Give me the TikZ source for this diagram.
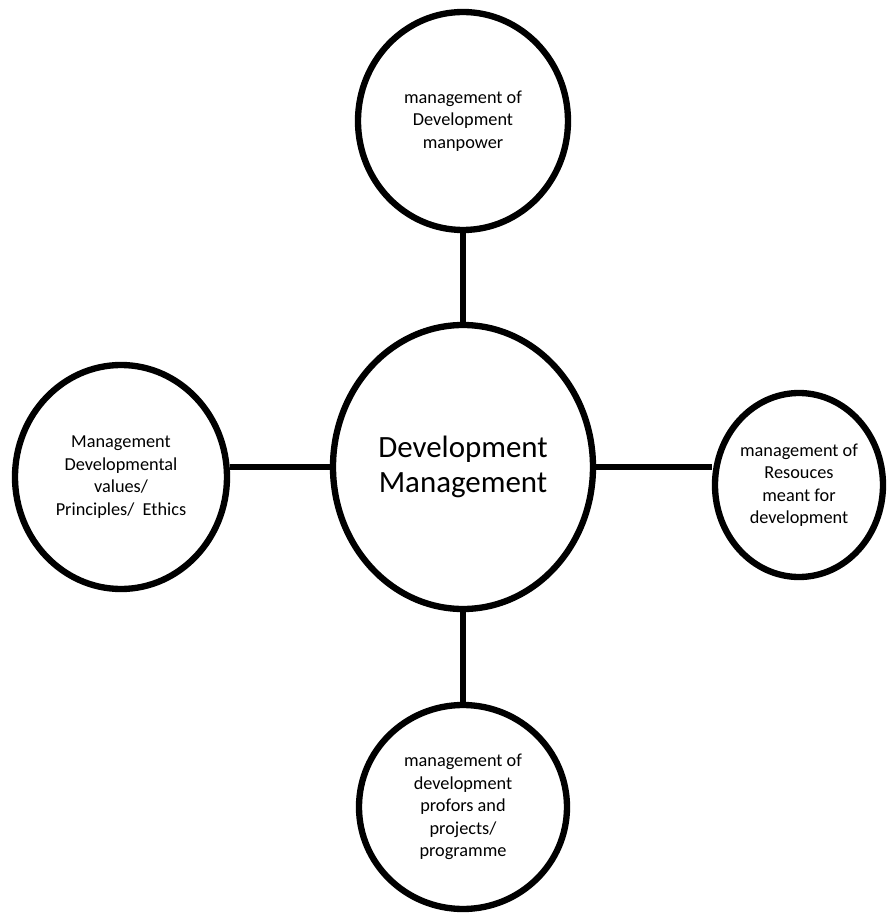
\documentclass[tikz,border=0pt]{standalone}
\usepackage{fontspec}
\setmainfont{Carlito}
\usepackage{xcolor}
\usetikzlibrary{shapes.geometric}

\tikzstyle{core} = [ellipse, minimum width=6.5cm, minimum height=7.1cm, inner sep=0pt, text centered, align=center, draw=black, line width=4.5pt, font=\fontsize{22}{25}\selectfont]
\tikzstyle{area} = [ellipse, inner sep=0pt, text centered, align=center, draw=black, line width=4.5pt, font=\fontsize{13}{16}\selectfont]
\tikzstyle{link} = [line width=3.6pt]

\begin{document}
\begin{tikzpicture}[node distance=8.5cm]
    \useasboundingbox (-11.575,-11.15) rectangle (10.75,11.675);
    \node (dm) [core] {Development\\Management};
    \node (man) [area, above of=dm, yshift=0.15cm, minimum width=5.25cm, minimum height=5.45cm] {management of\\Development\\manpower};
    \node (val) [area, left of=dm, yshift=-0.25cm, xshift=-0.05cm, minimum width=5.3cm, minimum height=5.6cm] {Management\\Developmental\\values/\\Principles/~ Ethics};
    \node (res) [area, right of=dm, yshift=-0.45cm, xshift=-0.1cm, minimum width=4.2cm, minimum height=4.6cm] {management of\\Resouces\\meant for\\development};
    \node (pro) [area, below of=dm, minimum width=5.2cm, minimum height=5.1cm] {management of\\development\\profors and\\projects/\\programme};
    \draw [link] (dm) -- (man);
    \draw [link] (dm.west) -- (dm.west -| val.east);
    \draw [link] (dm.east) -- (dm.east -| res.west);
    \draw [link] (dm) -- (pro);
\end{tikzpicture}
\end{document}
